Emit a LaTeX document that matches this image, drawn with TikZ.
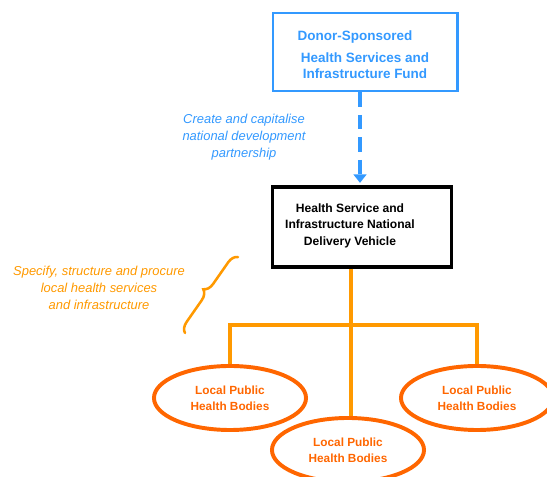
\documentclass[tikz,border=0pt]{standalone}
\usepackage{fontspec}
\setmainfont{Liberation Sans}
\usepackage{xcolor}
\usetikzlibrary{arrows.meta, positioning, shapes.geometric, decorations.pathreplacing}

\definecolor{fundblue}{HTML}{3399FF}
\definecolor{treeorange}{HTML}{FF9900}
\definecolor{bodyorange}{HTML}{FF6600}

\begin{document}
\begin{tikzpicture}[x=0.025cm, y=-0.025cm,
    body/.style={ellipse, draw=bodyorange, line width=2.8pt, text=bodyorange, minimum width=3.8cm, minimum height=1.6cm, inner sep=0pt, align=center, font=\fontsize{8.4}{11.4}\selectfont\bfseries},
    tree/.style={treeorange, line width=2.5pt},
    note/.style={align=center, font=\fontsize{9.2}{12}\selectfont\itshape}]
    \useasboundingbox (0,0) rectangle (547,477);

    % Fund and delivery vehicle
    \node[draw=fundblue, line width=2.1pt, minimum width=4.6cm, minimum height=1.95cm,
        label={[yshift=-0.07cm, text=fundblue, align=center, font=\fontsize{9.6}{11.4}\selectfont\bfseries]center:Donor-Sponsored\hspace*{0.5cm}\\[4pt]Health Services and\\Infrastructure Fund}] (fund) at (365,52) {};
    \node[draw=black, line width=2.8pt, minimum width=4.475cm, minimum height=2cm,
        label={[xshift=-0.3cm, yshift=0.03cm, align=center, font=\fontsize{8.6}{12}\selectfont\bfseries]center:Health Service and\\Infrastructure National\\Delivery Vehicle}] (vehicle) at (362,227) {};

    % Partnership
    \draw[fundblue, line width=3.5pt, dash pattern=on 10pt off 6pt, shorten >=1.5pt, -{Triangle[width=9pt,length=6pt]}] ([xshift=-0.125cm]fund.south) coordinate (drop) -- (drop |- vehicle.north);
    \node[note, fundblue] (partner) at (244,137) {Create and capitalise\\national development\\partnership};

    % Local bodies
    \node[body] (bodyL) at (230,398) {Local Public\\Health Bodies};
    \node[body] (bodyM) at (348,450) {Local Public\\Health Bodies};
    \node[body] (bodyR) at (477,398) {Local Public\\Health Bodies};

    \coordinate (bus) at (351,325);
    \draw[tree] (vehicle.south -| bus) -- (bus |- bodyM.north);
    \draw[tree] (bodyL.north) |- (bus) -| (bodyR.north);

    % Procurement note
    \node[note, treeorange] (specify) at (99,288) {Specify, structure and procure\\local health services\\and infrastructure};
    \draw[treeorange, line width=1.8pt, line cap=round, decorate, decoration={brace, amplitude=0.25cm}] (185,333) -- (238,257);
\end{tikzpicture}
\end{document}
